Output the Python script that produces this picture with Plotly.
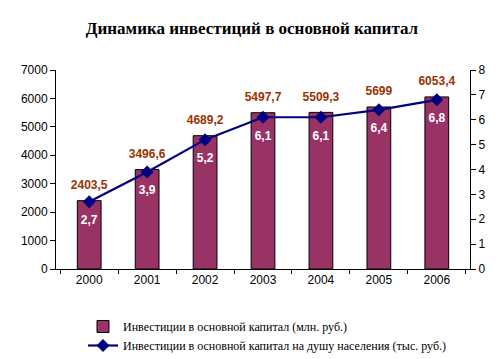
import plotly.graph_objects as go

years = ["2000", "2001", "2002", "2003", "2004", "2005", "2006"]
invest_mln = [2403.5, 3496.6, 4689.2, 5497.7, 5509.3, 5699, 6053.4]
invest_per_capita = [2.7, 3.9, 5.2, 6.1, 6.1, 6.4, 6.8]

def fmt(v):
    return ("%g" % v).replace(".", ",")

fig = go.Figure()
fig.add_trace(go.Bar(
    x=years, y=invest_mln, name="Инвестиции в основной капитал (млн. руб.)",
    marker=dict(color="#993366", line=dict(color="black", width=1)),
    width=0.41,
))
fig.add_trace(go.Scatter(
    x=years, y=invest_mln, mode="markers+text", showlegend=False, hoverinfo="skip",
    marker=dict(size=12, color="rgba(0,0,0,0)"),
    text=["<b>%s</b>" % fmt(v) for v in invest_mln], textposition="top center",
    textfont=dict(color="#993300", family="Liberation Sans", size=12),
    cliponaxis=False,
))
fig.add_trace(go.Scatter(
    x=years, y=invest_per_capita, yaxis="y2", mode="lines+markers",
    name="Инвестиции в основной капитал на душу населения (тыс. руб.)",
    line=dict(color="#000080", width=2.2),
    marker=dict(symbol="diamond", size=10, color="#000080"),
    cliponaxis=False,
))
fig.add_trace(go.Scatter(
    x=years, y=invest_per_capita, yaxis="y2", mode="markers+text", showlegend=False,
    hoverinfo="skip", marker=dict(size=20, color="rgba(0,0,0,0)"),
    text=["<b>%s</b>" % fmt(v) for v in invest_per_capita], textposition="bottom center",
    textfont=dict(color="white", family="Liberation Sans", size=12),
    cliponaxis=False,
))

fig.update_layout(
    width=504, height=359,
    margin=dict(l=56, r=34, t=70, b=90, autoexpand=False),
    paper_bgcolor="white", plot_bgcolor="white",
    title=dict(text="<b>Динамика инвестиций в основной капитал</b>",
               x=0.5, xanchor="center", y=1 - 28/359, yanchor="middle",
               font=dict(family="Liberation Serif", size=17, color="black")),
    font=dict(family="Liberation Sans", size=12, color="black"),
    showlegend=True,
    legend=dict(xref="container", yref="container",
                x=83 / 504, y=1 - 312 / 359, yanchor="top", xanchor="left",
                orientation="v", font=dict(family="Liberation Serif", size=12),
                tracegroupgap=0, itemwidth=30, bgcolor="rgba(0,0,0,0)",
                traceorder="normal"),
    xaxis=dict(type="category", showline=True, linecolor="black", linewidth=1,
               ticks="outside", tickson="boundaries", ticklen=4, tickcolor="black",
               showgrid=False, fixedrange=True),
    yaxis=dict(range=[0, 7000], dtick=1000, showline=True, linecolor="black",
               ticks="outside", ticklen=5, tickcolor="black", showgrid=False,
               zeroline=False),
    yaxis2=dict(range=[0, 8], dtick=1, overlaying="y", side="right",
                showline=True, linecolor="black", ticks="outside", ticklen=5,
                tickcolor="black", showgrid=False, zeroline=False),
)

fig.write_html("out.html", config={"displayModeBar": False},
               post_script="document.body.style.margin='0';document.body.style.overflow='hidden';")
